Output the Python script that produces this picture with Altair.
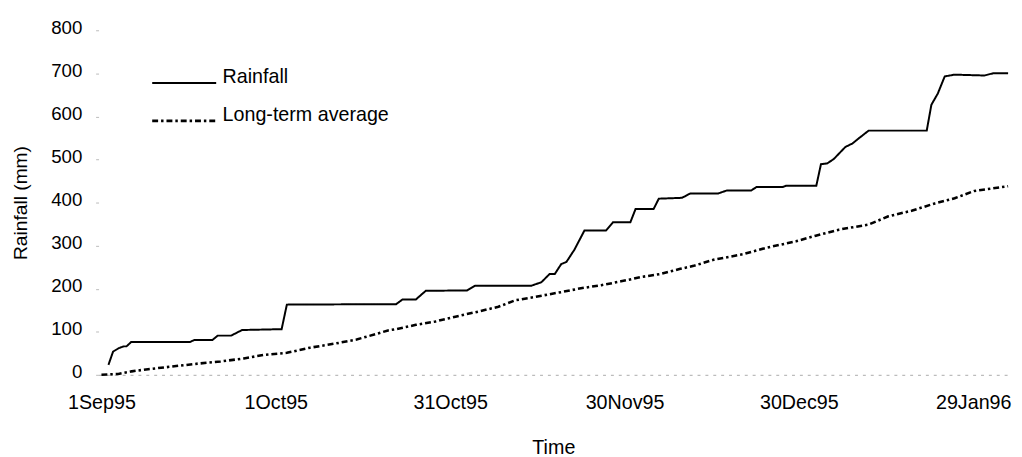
import altair as alt
import pandas as pd

# days since 1 Sep 1995
rain_day = [1.2, 2, 3, 3.8, 4.3, 5.1, 15.2, 16, 19.1, 20, 22.3, 24.2, 31, 31.9, 47.8, 50.7,
            51.8, 54.1, 55.8, 62.9, 64.3, 74, 75.7, 77.1, 78, 79.1, 80, 81.4, 83.1, 86.8,
            88, 91, 91.9, 95, 95.9, 99.9, 101.3, 106.1, 107.6, 111.8, 112.7, 117.2, 117.8,
            123, 123.8, 124.9, 126, 128, 129.2, 130.3, 132, 142, 142.8, 143.9, 145.1, 146.8,
            151.9, 153.4, 156]
rain_mm = [23, 54, 62, 66, 66, 76, 76, 81, 81, 91, 91, 104, 106, 163, 164, 164,
           175, 175, 195, 196, 207, 207, 215, 234, 234, 257, 262, 291, 335, 335,
           354, 354, 385, 385, 409, 411, 421, 421, 428, 428, 436, 436, 439,
           439, 489, 491, 501, 529, 537, 549, 567, 567, 627, 653, 693, 697,
           695, 700, 700]

avg_day = [0, 2.9, 5.2, 8, 12, 16.6, 20.5, 24.5, 27.9, 31.9, 35.9, 40.4, 43.9, 47.3, 49.3,
           50.7, 54.1, 57.5, 60.9, 64.9, 68.3, 71.2, 74.6, 79.1, 82.5, 86, 89.4, 92.8, 96.2,
           99.6, 101.9, 105.3, 110.4, 114.4, 119.5, 122.9, 126.9, 132, 135.4, 139.4, 143.4,
           146.8, 150.2, 156]
avg_mm = [0, 2, 8, 13, 19, 26, 31, 38, 46, 51, 63, 73, 82, 95, 103,
          106, 116, 124, 135, 147, 158, 173, 181, 192, 201, 208, 217, 227, 234,
          246, 253, 267, 280, 295, 310, 323, 337, 349, 368, 381, 398,
          410, 427, 438]

series_names = ["Rainfall", "Long-term average"]
tick_days = [0, 30, 60, 90, 120, 150]
tick_labels = ["1Sep95", "1Oct95", "31Oct95", "30Nov95", "30Dec95", "29Jan96"]
y_ticks = [0, 100, 200, 300, 400, 500, 600, 700, 800]

df = pd.concat([
    pd.DataFrame({"day": rain_day, "mm": rain_mm, "series": series_names[0]}),
    pd.DataFrame({"day": avg_day, "mm": avg_mm, "series": series_names[1]}),
])

label_expr = "[" + ",".join(f"'{t}'" for t in tick_labels) + "][round(datum.value/30)]"

FONT = "Liberation Sans"

legend_opts = dict(title=None, orient="none", legendX=53, legendY=20,
                   symbolType="stroke", symbolSize=4225, symbolStrokeWidth=2.2,
                   labelFontSize=20, labelFont=FONT, labelColor="black",
                   labelBaseline="alphabetic", labelOffset=5, labelLimit=400,
                   rowPadding=-22, padding=0)

chart = alt.Chart(df).mark_line().encode(
    x=alt.X("day:Q", title="Time",
            scale=alt.Scale(domain=[-0.5, 156], nice=False, zero=False),
            axis=alt.Axis(values=tick_days, labelExpr=label_expr, grid=False,
                          ticks=False, labelPadding=18, titlePadding=26,
                          domainColor="#aaaaaa", domainDash=[3, 5], domainWidth=1,
                          labelFontSize=20, titleFontSize=20, labelColor="black",
                          titleColor="black", titleFontWeight="normal", labelFont=FONT,
                          titleFont=FONT)),
    y=alt.Y("mm:Q", title="Rainfall (mm)",
            scale=alt.Scale(domain=[0, 800], nice=False),
            axis=alt.Axis(values=y_ticks, grid=False, domain=False, tickSize=3,
                          tickColor="#bbbbbb", labelPadding=14, titlePadding=20,
                          labelOffset=-3, labelFontSize=19, titleFontSize=19.5,
                          labelColor="black", titleColor="black",
                          titleFontWeight="normal", labelFont=FONT, titleFont=FONT)),
    color=alt.Color("series:N",
                    scale=alt.Scale(domain=series_names, range=["black", "black"]),
                    legend=alt.Legend(**legend_opts)),
    strokeDash=alt.StrokeDash("series:N",
                              scale=alt.Scale(domain=series_names,
                                              range=[[1, 0], [6, 3, 2.5, 3]]),
                              legend=alt.Legend(**legend_opts)),
    strokeWidth=alt.StrokeWidth("series:N",
                                scale=alt.Scale(domain=series_names, range=[2, 2.6]),
                                legend=None),
).properties(
    width=924, height=350,
    padding={"left": 3, "top": 7, "right": 0, "bottom": 5},
).configure_view(stroke=None)

chart.save("out.html", embed_options={"renderer": "svg", "actions": False})
